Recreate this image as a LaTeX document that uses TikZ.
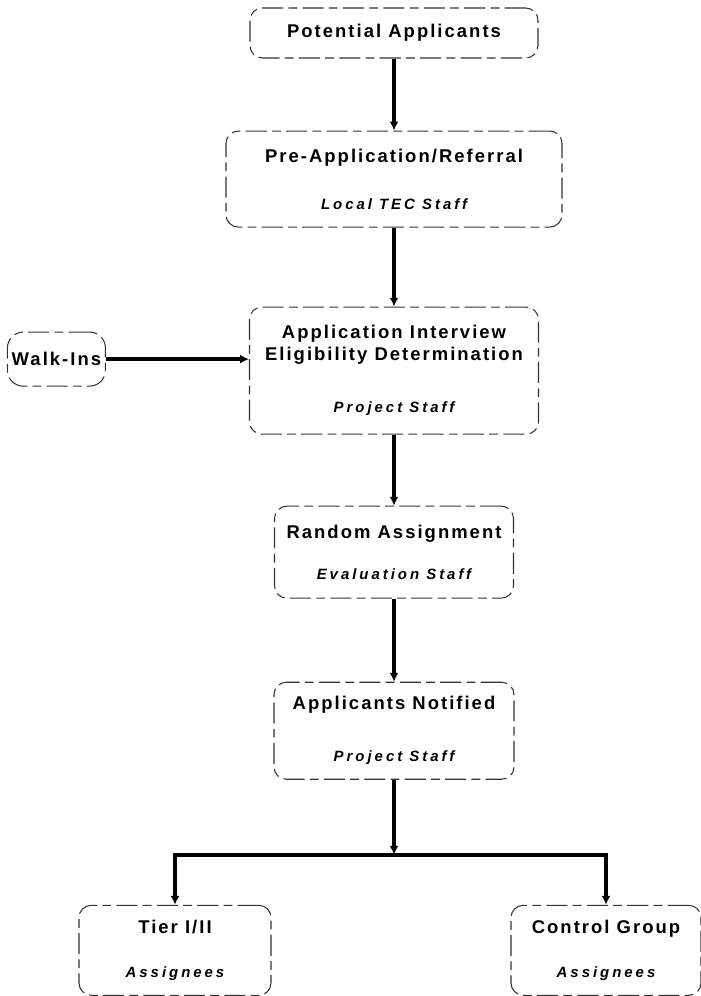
\documentclass[tikz,border=0pt]{standalone}
\usepackage{fontspec}
\setmainfont{Liberation Sans}
\newfontfamily\headfont{Liberation Sans}[LetterSpace=11]
\newfontfamily\stafffont{Liberation Sans}[LetterSpace=20]
\usetikzlibrary{arrows.meta, positioning}
\newcommand{\staff}[1]{{\stafffont\bfseries\itshape\fontsize{8.5}{10}\selectfont #1}}
\tikzset{
  stage/.style={rectangle, rounded corners=7pt, draw=black!80, line width=0.6pt,
                dash pattern=on 12pt off 3pt on 5pt off 3pt, align=center, inner sep=2pt,
                font=\headfont\bfseries\fontsize{10.5}{12.6}\selectfont},
  arrow/.style={-{Latex[length=5pt,width=5pt]}, line width=2pt},
}
\begin{document}
\begin{tikzpicture}
  \useasboundingbox (0,0) rectangle (14,-19.92);

  % Main column
  \node[stage, minimum width=5.76cm, minimum height=1cm] (pot) at (7.88,-0.66) {Potential Applicants};
  \node[stage, minimum width=6.72cm, minimum height=1.92cm, below=1.44cm of pot] (pre)
       {Pre-Application/Referral\\[14pt]\staff{Local TEC Staff}};
  \node[stage, minimum width=5.78cm, minimum height=2.54cm, below=1.58cm of pre] (app)
       {Application Interview\\Eligibility Determination\\[17pt]\staff{Project Staff}};
  \node[stage, minimum width=4.78cm, minimum height=1.84cm, below=1.42cm of app] (rand)
       {Random Assignment\\[11pt]\staff{Evaluation Staff}};
  \node[stage, minimum width=4.8cm, minimum height=1.94cm, below=1.66cm of rand] (notif)
       {Applicants Notified\\[17pt]\staff{Project Staff}};

  % Walk-ins
  \node[stage, rounded corners=9pt, minimum width=1.96cm, minimum height=1.08cm,
        left=2.86cm of app, yshift=0.23cm] (walk) {Walk-Ins};

  % Split
  \coordinate[below=1.5cm of notif] (split);
  \node[stage, minimum width=3.84cm, minimum height=1.8cm, below=1.0cm of split, xshift=-4.38cm] (tier)
       {Tier I/II\\[12pt]\staff{Assignees}};
  \node[stage, minimum width=3.8cm, minimum height=1.8cm, below=1.0cm of split, xshift=4.24cm] (ctrl)
       {Control Group\\[12pt]\staff{Assignees}};

  % Arrows
  \draw[arrow] (pot) -- (pre);
  \draw[arrow] (pre) -- (app);
  \draw[arrow] (walk.east) -- (walk.east -| app.west);
  \draw[arrow] (app) -- (rand);
  \draw[arrow] (rand) -- (notif);
  \draw[arrow] (notif) -- (split);
  \draw[arrow] (split) -| (tier);
  \draw[arrow] (split) -| (ctrl);

\end{tikzpicture}
\end{document}
